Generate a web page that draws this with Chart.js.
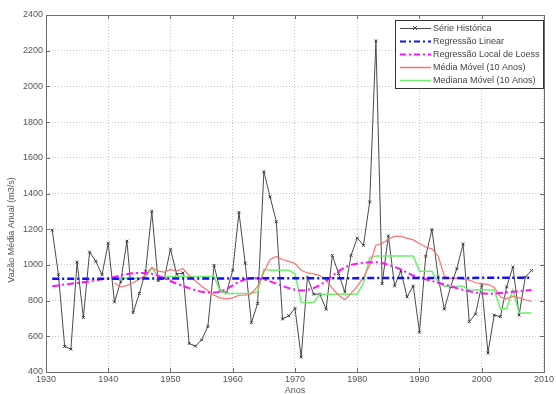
<!DOCTYPE html>
<html>
<head>
<meta charset="utf-8">
<script src="https://cdn.jsdelivr.net/npm/chart.js@4"></script>
<style>
  html, body { margin: 0; padding: 0; background: #fff; }
  canvas { display: block; }
</style>
</head>
<body>
<canvas id="chart" width="556" height="394"></canvas>
<script>
// Série histórica (vazão média anual, m3/s)
const anos = [
  1931, 1932, 1933, 1934, 1935, 1936, 1937, 1938, 1939, 1940,
  1941, 1942, 1943, 1944, 1945, 1946, 1947, 1948, 1949, 1950,
  1951, 1952, 1953, 1954, 1955, 1956, 1957, 1958, 1959, 1960,
  1961, 1962, 1963, 1964, 1965, 1966, 1967, 1968, 1969, 1970,
  1971, 1972, 1973, 1974, 1975, 1976, 1977, 1978, 1979, 1980,
  1981, 1982, 1983, 1984, 1985, 1986, 1987, 1988, 1989, 1990,
  1991, 1992, 1993, 1994, 1995, 1996, 1997, 1998, 1999, 2000,
  2001, 2002, 2003, 2004, 2005, 2006, 2007, 2008
];
const serieHistorica = [
  1195, 945, 543, 528, 1016, 705, 1072, 1020, 945, 1122,
  792, 905, 1133, 733, 840, 965, 1300, 912, 925, 1088,
  947, 955, 560, 545, 580, 655, 997, 854, 843, 970,
  1294, 1010, 676, 784, 1522, 1381, 1242, 697, 715, 756,
  483, 932, 836, 836, 751, 1053, 951, 849, 1053, 1151,
  1109, 1353, 2255, 895, 1163, 882, 966, 821, 882, 623,
  1049, 1198, 932, 752, 877, 979, 1118, 682, 725, 886,
  506, 719, 710, 877, 988, 719, 932, 969
];

// Regressão linear (quase horizontal)
const regAnos = [1931, 2008];
const regLinear = [922, 928];

// Regressão local de Loess
const loessAnos = [
  1931, 1934, 1937, 1940, 1943, 1945, 1947, 1949, 1951, 1953,
  1955, 1957, 1959, 1961, 1963, 1965, 1967, 1969, 1971, 1973,
  1975, 1977, 1979, 1981, 1983, 1985, 1987, 1989, 1991, 1993,
  1995, 1997, 1999, 2001, 2003, 2005, 2008
];
const loess = [
  880, 895, 908, 925, 948, 955, 950, 925, 895, 870,
  850, 845, 865, 905, 925, 918, 895, 870, 857, 870,
  910, 965, 1000, 1012, 1015, 1000, 975, 940, 920, 900,
  880, 860, 845, 838, 842, 850, 860
];

// Média móvel e mediana móvel (10 anos)
const moveisAnos = [
  1941, 1942, 1943, 1944, 1945, 1946, 1947, 1948, 1949, 1950,
  1951, 1952, 1953, 1954, 1955, 1956, 1957, 1958, 1959, 1960,
  1961, 1962, 1963, 1964, 1965, 1966, 1967, 1968, 1969, 1970,
  1971, 1972, 1973, 1974, 1975, 1976, 1977, 1978, 1979, 1980,
  1981, 1982, 1983, 1984, 1985, 1986, 1987, 1988, 1989, 1990,
  1991, 1992, 1993, 1994, 1995, 1996, 1997, 1998, 1999, 2000,
  2001, 2002, 2003, 2004, 2005, 2006, 2007, 2008
];
const mediaMovel = [
  900, 875, 885, 900, 920, 945, 985, 965, 960, 975,
  965, 980, 940, 910, 880, 855, 830, 815, 810, 815,
  830, 830, 840, 880, 960, 1030, 1047, 1030, 1020, 1008,
  970, 955, 950, 940, 915, 870, 830, 805, 840, 880,
  930, 1000, 1110, 1120, 1145, 1160, 1160, 1150, 1140, 1120,
  1100, 1090, 1050, 935, 925, 925, 920, 915, 900, 895,
  890, 875, 820, 810, 825, 815, 805, 795
];
const medianaMovel = [
  925, 925, 925, 925, 925, 930, 985, 935, 935, 935,
  935, 935, 935, 935, 935, 935, 935, 850, 840, 840,
  840, 840, 840, 850, 975, 970, 970, 970, 970, 950,
  790, 790, 790, 835, 835, 835, 835, 835, 835, 835,
  900, 1040, 1050, 1050, 1050, 1050, 1050, 1050, 1050, 965,
  965, 965, 900, 880, 880, 880, 880, 860, 860, 860,
  860, 860, 755, 755, 860, 730, 730, 730
];

const yTicks = [400, 600, 800, 1000, 1200, 1400, 1600, 1800, 2000, 2200, 2400];
const xTicks = [1930, 1940, 1950, 1960, 1970, 1980, 1990, 2000, 2010];

const FONT = '"Liberation Sans", Arial, sans-serif';

const toPoints = (xs, ys) => xs.map((x, i) => ({ x: x, y: ys[i] }));

const legendItems = [
  { label: 'Série Histórica', color: '#4a4a4a', width: 1, dash: [], marker: true },
  { label: 'Regressão Linear', color: '#1010ff', width: 2, dash: [6, 3, 2, 3] },
  { label: 'Regressão Local de Loess', color: '#ff10ff', width: 2, dash: [6, 3, 2, 3] },
  { label: 'Média Móvel (10 Anos)', color: '#ff7070', width: 1.5, dash: [] },
  { label: 'Mediana Móvel (10 Anos)', color: '#70f070', width: 1.5, dash: [] }
];

// Caixa, ticks internos, títulos e legenda no estilo MATLAB
const matlabFrame = {
  id: 'matlabFrame',
  afterDraw(chart) {
    const { ctx, chartArea: a, scales } = chart;
    ctx.save();
    ctx.strokeStyle = '#6e6e6e';
    ctx.lineWidth = 1;
    ctx.setLineDash([]);
    ctx.strokeRect(a.left + 0.5, a.top + 0.5, a.right - a.left, a.bottom - a.top);

    // ticks internos nos quatro lados
    const len = 4;
    ctx.beginPath();
    xTicks.forEach(v => {
      const px = Math.round(scales.x.getPixelForValue(v)) + 0.5;
      ctx.moveTo(px, a.bottom); ctx.lineTo(px, a.bottom - len);
      ctx.moveTo(px, a.top); ctx.lineTo(px, a.top + len);
    });
    yTicks.forEach(v => {
      const py = Math.round(scales.y.getPixelForValue(v)) + 0.5;
      ctx.moveTo(a.left, py); ctx.lineTo(a.left + len, py);
      ctx.moveTo(a.right, py); ctx.lineTo(a.right - len, py);
    });
    ctx.stroke();

    // títulos dos eixos
    ctx.fillStyle = '#555';
    ctx.font = '9px ' + FONT;
    ctx.textAlign = 'center';
    ctx.textBaseline = 'middle';
    ctx.fillText('Anos', (a.left + a.right) / 2, 391);
    ctx.save();
    ctx.translate(12, 230);
    ctx.rotate(-Math.PI / 2);
    ctx.fillText('Vazão Média Anual (m3/s)', 0, 0);
    ctx.restore();

    // legenda
    const bx = 395, by = 20, bw = 148, bh = 68;
    ctx.fillStyle = '#fff';
    ctx.fillRect(bx, by, bw, bh);
    ctx.strokeStyle = '#333';
    ctx.strokeRect(bx + 0.5, by + 0.5, bw, bh);
    ctx.textAlign = 'left';
    ctx.font = '9px ' + FONT;
    legendItems.forEach((it, i) => {
      const y = by + 8 + i * 13;
      ctx.strokeStyle = it.color;
      ctx.lineWidth = it.width;
      ctx.setLineDash(it.dash);
      ctx.beginPath();
      ctx.moveTo(bx + 5, y + 0.5);
      ctx.lineTo(bx + 36, y + 0.5);
      ctx.stroke();
      ctx.setLineDash([]);
      if (it.marker) {
        const cx = bx + 20;
        ctx.lineWidth = 1;
        ctx.beginPath();
        ctx.moveTo(cx - 2, y - 2); ctx.lineTo(cx + 2, y + 2);
        ctx.moveTo(cx - 2, y + 2); ctx.lineTo(cx + 2, y - 2);
        ctx.stroke();
      }
      ctx.fillStyle = '#444';
      ctx.fillText(it.label, bx + 38, y + 1);
    });
    ctx.restore();
  }
};

const chart = new Chart(document.getElementById('chart'), {
  type: 'line',
  data: {
    datasets: [
      {
        label: 'Série Histórica',
        data: toPoints(anos, serieHistorica),
        borderColor: '#4a4a4a',
        borderWidth: 1,
        pointStyle: 'crossRot',
        pointRadius: 2,
        pointBorderWidth: 1,
        pointBorderColor: '#333',
        order: 5
      },
      {
        label: 'Regressão Linear',
        data: toPoints(regAnos, regLinear),
        borderColor: '#1010ff',
        borderWidth: 2.5,
        borderDash: [7, 3, 2, 3],
        pointRadius: 0,
        order: 1
      },
      {
        label: 'Regressão Local de Loess',
        data: toPoints(loessAnos, loess),
        borderColor: '#ff10ff',
        borderWidth: 2,
        borderDash: [7, 3, 2, 3],
        tension: 0.4,
        cubicInterpolationMode: 'monotone',
        pointRadius: 0,
        order: 2
      },
      {
        label: 'Média Móvel (10 Anos)',
        data: toPoints(moveisAnos, mediaMovel),
        borderColor: '#ff7070',
        borderWidth: 1.2,
        pointRadius: 0,
        order: 3
      },
      {
        label: 'Mediana Móvel (10 Anos)',
        data: toPoints(moveisAnos, medianaMovel),
        borderColor: '#70f070',
        borderWidth: 1.5,
        pointRadius: 0,
        order: 4
      }
    ]
  },
  options: {
    responsive: false,
    animation: false,
    layout: { padding: { top: 15, right: 11, left: 0, bottom: 0 } },
    plugins: {
      legend: { display: false },
      tooltip: { enabled: false }
    },
    scales: {
      x: {
        type: 'linear',
        min: 1930,
        max: 2010,
        afterFit: (s) => { s.height = 22; },
        afterBuildTicks: (s) => { s.ticks = xTicks.map(v => ({ value: v })); },
        ticks: {
          color: '#555',
          font: { family: FONT, size: 9 },
          padding: 2,
          maxRotation: 0,
          callback: (v) => String(v)
        },
        grid: { color: '#c8c8c8', drawTicks: false },
        border: { display: false, dash: [1, 2] }
      },
      y: {
        min: 400,
        max: 2400,
        afterFit: (s) => { s.width = 46; },
        afterBuildTicks: (s) => { s.ticks = yTicks.map(v => ({ value: v })); },
        ticks: {
          color: '#555',
          font: { family: FONT, size: 9 },
          padding: 3,
          callback: (v) => String(v)
        },
        grid: { color: '#c8c8c8', drawTicks: false },
        border: { display: false, dash: [1, 2] }
      }
    }
  },
  plugins: [matlabFrame]
});
</script>
</body>
</html>
